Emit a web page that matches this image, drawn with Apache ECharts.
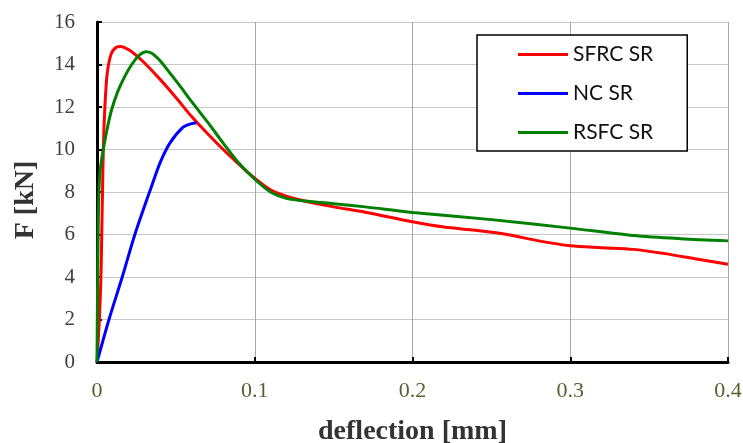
<!DOCTYPE html>
<html><head><meta charset="utf-8">
<script src="https://cdn.jsdelivr.net/npm/echarts@6/dist/echarts.min.js"></script>
<style>html,body{margin:0;padding:0;background:#fff;overflow:hidden}#c{width:743px;height:443px}</style>
</head><body><div id="c"></div>
<script>
const xTicks = [0, 0.1, 0.2, 0.3, 0.4];
const yTicks = [0, 2, 4, 6, 8, 10, 12, 14, 16];

const sfrcX = [0, 0.0015, 0.0025, 0.003, 0.0035, 0.004, 0.005, 0.0065, 0.009, 0.012, 0.015, 0.02, 0.025, 0.03, 0.04, 0.05, 0.06, 0.07, 0.08, 0.09, 0.1, 0.11, 0.12, 0.133, 0.15, 0.17, 0.2, 0.22, 0.24, 0.26, 0.28, 0.3, 0.32, 0.34, 0.36, 0.38, 0.4];
const sfrcY = [0, 2, 4, 6, 8, 10, 12, 13.6, 14.5, 14.8, 14.85, 14.7, 14.42, 14.08, 13.3, 12.45, 11.55, 10.75, 10.0, 9.3, 8.65, 8.1, 7.8, 7.55, 7.3, 7.05, 6.6, 6.35, 6.2, 6.0, 5.7, 5.47, 5.38, 5.3, 5.1, 4.85, 4.6];

const ncX = [0, 0.0076, 0.016, 0.024, 0.0316, 0.0346, 0.0399, 0.0462, 0.0546, 0.06, 0.0631];
const ncY = [0, 2, 4, 6, 7.65, 8.27, 9.36, 10.3, 11.05, 11.22, 11.26];

const rsfcX = [0, 0.0003, 0.0007, 0.0012, 0.002, 0.0035, 0.006, 0.009, 0.013, 0.017, 0.022, 0.027, 0.031, 0.035, 0.04, 0.046, 0.052, 0.06, 0.07, 0.08, 0.09, 0.1, 0.11, 0.12, 0.135, 0.15, 0.17, 0.2, 0.25, 0.3, 0.34, 0.37, 0.4];
const rsfcY = [0, 3, 6, 8, 9, 9.8, 10.8, 11.8, 12.7, 13.35, 14.0, 14.45, 14.6, 14.52, 14.18, 13.62, 13.05, 12.25, 11.3, 10.3, 9.35, 8.6, 8.0, 7.7, 7.55, 7.45, 7.3, 7.04, 6.7, 6.3, 5.95, 5.8, 5.7];

const names = ['SFRC SR', 'NC SR', 'RSFC SR'];
const colors = ['#ff0000', '#0000ff', '#008000'];

function pairs(xs, ys) { return xs.map((x, i) => [x, ys[i]]); }

const chart = echarts.init(document.getElementById('c'), null, {renderer: 'canvas'});
const serif = '"Liberation Serif", "DejaVu Serif", serif';
chart.setOption({
  animation: false,
  grid: {left: 97, width: 631, top: 22, height: 340, containLabel: false, outerBoundsMode: 'none'},
  legend: {
    data: names, orient: 'vertical', left: 477, top: 35,
    padding: [9, 34, 8, 41], itemGap: 18,
    icon: 'rect', itemWidth: 50, itemHeight: 3,
    borderColor: '#000', borderWidth: 1.5, backgroundColor: '#fff',
    textStyle: {fontFamily: 'Lato, "Open Sans", sans-serif', fontSize: 21, color: '#111', lineHeight: 21}
  },
  xAxis: {
    type: 'value', min: 0, max: 0.4, interval: 0.1,
    name: 'deflection [mm]', nameLocation: 'middle', nameGap: 56,
    nameTextStyle: {fontFamily: serif, fontSize: 28, fontWeight: 'bold', color: '#333'},
    axisLine: {show: true, onZero: false, lineStyle: {color: '#000', width: 3}},
    axisTick: {show: true, inside: true, length: 5, lineStyle: {color: '#000', width: 2}},
    axisLabel: {
      margin: 18, fontFamily: serif, fontSize: 22,
      color: function (v) { return v === 0 ? '#404040' : '#57602f'; },
      formatter: function (v) { return String(Math.round(v * 10) / 10); }
    },
    splitLine: {show: true, lineStyle: {color: '#a8a8a8', width: 1}}
  },
  yAxis: {
    type: 'value', min: 0, max: 16, interval: 2,
    name: 'F [kN]', nameLocation: 'middle', nameGap: 57, nameRotate: 90,
    nameTextStyle: {fontFamily: serif, fontSize: 28, fontWeight: 'bold', color: '#333', padding: [0, 16, 0, 0]},
    axisLine: {show: true, lineStyle: {color: '#000', width: 3}},
    axisTick: {show: true, inside: true, length: 5, lineStyle: {color: '#000', width: 2}},
    axisLabel: {margin: 22, fontFamily: serif, fontSize: 21, color: '#404040'},
    splitLine: {show: true, lineStyle: {color: '#c8c8c8', width: 1}}
  },
  series: [
    {name: names[0], type: 'line', data: pairs(sfrcX, sfrcY), showSymbol: false, symbol: 'none', smooth: 0.3, lineStyle: {color: colors[0], width: 3}, itemStyle: {color: colors[0]}},
    {name: names[1], type: 'line', data: pairs(ncX, ncY), showSymbol: false, symbol: 'none', smooth: 0.3, lineStyle: {color: colors[1], width: 3}, itemStyle: {color: colors[1]}},
    {name: names[2], type: 'line', data: pairs(rsfcX, rsfcY), showSymbol: false, symbol: 'none', smooth: 0.3, lineStyle: {color: colors[2], width: 3}, itemStyle: {color: colors[2]}, z: 3}
  ]
});
</script></body></html>
